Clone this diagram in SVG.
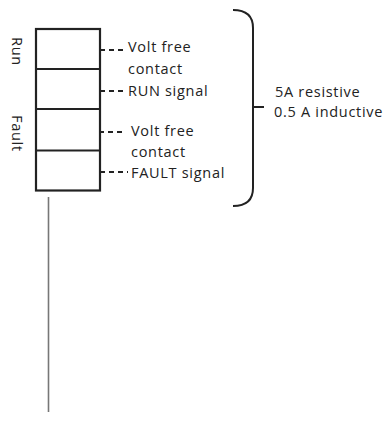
<svg xmlns="http://www.w3.org/2000/svg" width="383" height="421" viewBox="0 0 383 421">
<style>
text{font-family:"Open Sans","Noto Sans",sans-serif;font-size:14.5px;fill:#222;letter-spacing:0.7px}
.box{fill:#fff;stroke:#222;stroke-width:2.2}
.div{stroke:#222;stroke-width:2}
.dash{stroke:#222;stroke-width:1.8;stroke-dasharray:5 4;fill:none}
.brace{fill:none;stroke:#222;stroke-width:2}
.stem{stroke:#777;stroke-width:1.6}
</style>
<rect width="383" height="421" fill="#fff"/>
<g id="relay-box">
<rect class="box" x="36" y="29" width="64" height="161.5"/>
<line class="div" x1="36" y1="69" x2="100" y2="69"/>
<line class="div" x1="36" y1="109" x2="100" y2="109"/>
<line class="div" x1="36" y1="150.5" x2="100" y2="150.5"/>
</g>
<g id="labels-side">
<text transform="translate(12,37) rotate(90)">Run</text>
<text transform="translate(12,115) rotate(90)">Fault</text>
</g>
<g id="connectors">
<line class="dash" x1="100" y1="50" x2="126" y2="50"/>
<line class="dash" x1="100" y1="91" x2="126" y2="91"/>
<line class="dash" x1="99" y1="132" x2="126" y2="132"/>
<line class="dash" x1="100" y1="172" x2="128" y2="172"/>
<line class="stem" x1="48.5" y1="197" x2="48.5" y2="412"/>
</g>
<g id="run-text">
<text x="128" y="52">Volt free</text>
<text x="128" y="74">contact</text>
<text x="128" y="96">RUN signal</text>
</g>
<g id="fault-text">
<text x="131" y="136">Volt free</text>
<text x="131" y="157">contact</text>
<text x="131" y="178">FAULT signal</text>
</g>
<g id="brace">
<path class="brace" d="M233,10 Q253,10 253,28 V188 Q253,206 233,206 M253,107 H264"/>
</g>
<g id="rating">
<text x="275" y="97">5A resistive</text>
<text x="274" y="117">0.5 A inductive</text>
</g>
</svg>
